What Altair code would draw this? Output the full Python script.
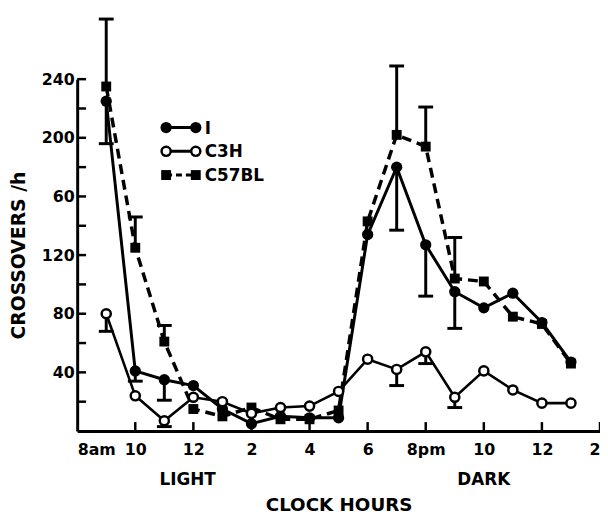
import altair as alt
import pandas as pd

# ---------------- data ----------------
hours = list(range(9, 26))  # 9am .. 1am (25 = 1am next day)
series_names = ["I", "C3H", "C57BL"]
vals_I = [225, 41, 35, 31, 15, 5, 10, 9, 9, 134, 180, 127, 95, 84, 94, 74, 47]
vals_C3H = [80, 24, 7, 23, 20, 12, 16, 17, 27, 49, 42, 54, 23, 41, 28, 19, 19]
vals_C57BL = [235, 125, 61, 15, 10, 16, 8, 8, 14, 143, 202, 194, 104, 102, 78, 73, 46]

# one-sided error bars (series, hour, end value)
err_series = ["C57BL"] * 6 + ["I"] * 6 + ["C3H"] * 5
err_hours = [9, 10, 11, 19, 20, 21, 9, 10, 11, 19, 20, 21, 9, 11, 19, 20, 21]
err_ends = [281, 146, 72, 249, 221, 132, 196, 34, 21, 137, 92, 70, 68, 3, 31, 46, 16]

x_tick_values = list(range(8, 27, 2))
y_label_values = list(range(40, 241, 40))
y_tick_values = list(range(20, 241, 20))
period_labels = ["LIGHT", "DARK"]
period_hours = [11.8, 22.0]

# ---------------- build tables ----------------
rows = []
for name, vals in zip(series_names, [vals_I, vals_C3H, vals_C57BL]):
    for h, v in zip(hours, vals):
        rows.append({"series": name, "hour": h, "value": v})
df = pd.DataFrame(rows)
lookup = {(r["series"], r["hour"]): r["value"] for r in rows}
err_df = pd.DataFrame({"series": err_series, "hour": err_hours, "end": err_ends})
err_df["start"] = [lookup[(s, h)] for s, h in zip(err_series, err_hours)]

W, H = 529, 356
FONT = "DejaVu Sans"

xscale = alt.Scale(domain=[8, 26], nice=False, zero=False)
yscale = alt.Scale(domain=[0, 240], nice=False, zero=False)

x_axis = alt.Axis(
    values=x_tick_values,
    labelExpr="datum.value == 8 ? '8am' : datum.value == 20 ? '8pm' : '' + (((datum.value - 1) % 12) + 1)",
    labelFlush=True, labelOverlap=False, ticks=False, grid=False,
    domainWidth=3, domainColor="black",
    labelFont=FONT, labelFontWeight="bold", labelFontSize=16, labelColor="black", labelPadding=11,
    title="CLOCK HOURS", titleFont=FONT, titleFontSize=18.5, titleFontWeight="bold",
    titleColor="black", titlePadding=38,
)
y_axis = alt.Axis(
    values=y_label_values,
    labelExpr="datum.value == 160 ? '60' : datum.label",
    labelOverlap=False, ticks=False, grid=False,
    domainWidth=3, domainColor="black",
    labelFont=FONT, labelFontWeight="bold", labelFontSize=16, labelColor="black", labelPadding=3,
    title="CROSSOVERS /h", titleFont=FONT, titleFontSize=19, titleFontWeight="bold",
    titleColor="black", titlePadding=13,
)


def XQ(field):
    return alt.X(field, scale=xscale, axis=x_axis)


def YQ(field):
    return alt.Y(field, scale=yscale, axis=y_axis)


base = alt.Chart(df)
X = XQ("hour:Q")
Y = YQ("value:Q")

line_I = base.transform_filter("datum.series == 'I'").mark_line(color="black", strokeWidth=3).encode(x=X, y=Y)
line_C3H = base.transform_filter("datum.series == 'C3H'").mark_line(color="black", strokeWidth=2.6).encode(x=X, y=Y)
line_C57 = base.transform_filter("datum.series == 'C57BL'").mark_line(
    color="black", strokeWidth=3.5, strokeDash=[10, 6]).encode(x=X, y=Y)

err = alt.Chart(err_df)
err_rule = err.mark_rule(color="black", strokeWidth=3).encode(
    x=XQ("hour:Q"), y=YQ("start:Q"), y2="end:Q",
)
err_cap = err.mark_tick(color="black", orient="horizontal", size=15, thickness=3, opacity=1).encode(
    x=XQ("hour:Q"), y=YQ("end:Q"),
)

pts_C57 = base.transform_filter("datum.series == 'C57BL'").mark_square(
    color="black", size=100, opacity=1).encode(x=X, y=Y)
pts_I = base.transform_filter("datum.series == 'I'").mark_circle(
    color="black", size=130, opacity=1).encode(x=X, y=Y)
pts_C3H = base.transform_filter("datum.series == 'C3H'").mark_circle(
    color="white", stroke="black", strokeWidth=2.5, size=85, opacity=1).encode(x=X, y=Y)

ytick_df = pd.DataFrame({"v": y_tick_values})
yticks = alt.Chart(ytick_df).mark_rule(color="black", strokeWidth=2.5).encode(
    y=YQ("v:Q"), x=alt.value(0), x2=alt.value(9))
xtick_df = pd.DataFrame({"h": x_tick_values[1:]})
xticks = alt.Chart(xtick_df).mark_rule(color="black", strokeWidth=2.5).encode(
    x=XQ("h:Q"), y=alt.value(H), y2=alt.value(H - 9))

period_df = pd.DataFrame({"label": period_labels, "h": period_hours})
periods = alt.Chart(period_df).mark_text(
    font=FONT, fontWeight="bold", fontSize=17, color="black", baseline="middle", align="center"
).encode(x=XQ("h:Q"), y=alt.value(406), text="label:N")

# ---------------- legend (drawn by hand) ----------------
one = pd.DataFrame({"a": [0]})
LX0, LX1, LTX, LY0, LDY = 90, 120, 129, 49, 24
legend_layers = []
for i, name in enumerate(series_names):
    ly = LY0 + i * LDY
    dash = [6, 4] if name == "C57BL" else [1, 0]
    legend_layers.append(alt.Chart(one).mark_rule(color="black", strokeWidth=3, strokeDash=dash).encode(
        x=alt.value(LX0), x2=alt.value(LX1), y=alt.value(ly)))
    for lx in (LX0, LX1):
        if name == "I":
            m = alt.Chart(one).mark_circle(color="black", size=130, opacity=1)
        elif name == "C3H":
            m = alt.Chart(one).mark_circle(color="white", stroke="black", strokeWidth=2.5, size=85, opacity=1)
        else:
            m = alt.Chart(one).mark_square(color="black", size=100, opacity=1)
        legend_layers.append(m.encode(x=alt.value(lx), y=alt.value(ly)))
    legend_layers.append(alt.Chart(one).mark_text(
        font=FONT, fontWeight="bold", fontSize=17, color="black", align="left", baseline="middle"
    ).encode(x=alt.value(LTX), y=alt.value(ly + 1), text=alt.value(name)))

chart = alt.layer(
    yticks, xticks,
    line_C3H, line_I, line_C57,
    err_rule, err_cap,
    pts_C57, pts_I, pts_C3H,
    periods, *legend_layers,
).properties(
    width=W, height=H,
    autosize=alt.AutoSizeParams(type="none"),
    padding={"left": 70, "top": 69, "right": 0, "bottom": 84},
    background="white",
).configure_view(stroke=None)

chart.save("out.html", embed_options={"renderer": "svg", "actions": False})
